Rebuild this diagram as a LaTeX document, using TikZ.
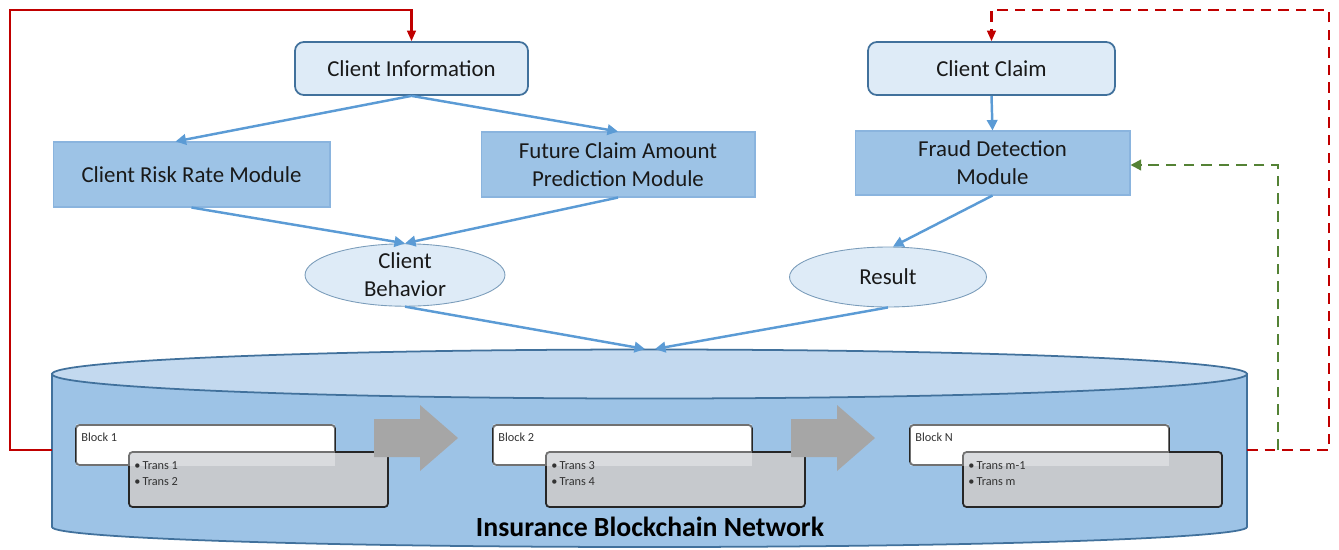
\documentclass[tikz,border=0pt]{standalone}
\usepackage{fontspec}
\setmainfont{Carlito}
\usetikzlibrary{arrows.meta,shapes.geometric,calc}
\definecolor{lightbox}{HTML}{DEEBF7}
\definecolor{boxborder}{HTML}{41719C}
\definecolor{modfill}{HTML}{9DC3E6}
\definecolor{modborder}{HTML}{8AB4DE}
\definecolor{arrowblue}{HTML}{5B9BD5}
\definecolor{redline}{HTML}{C00000}
\definecolor{greenline}{HTML}{548235}
\definecolor{cyltop}{HTML}{C3D9EF}
\definecolor{transgray}{HTML}{C6C9CD}
\definecolor{bigarrow}{HTML}{A6A6A6}
\tikzset{
  mainfont/.style={font=\fontsize{13}{16}\selectfont, text=black!90},
  infobox/.style={mainfont, draw=boxborder, line width=1pt, fill=lightbox, rounded corners=5pt, align=center},
  modbox/.style={mainfont, draw=modborder, line width=0.6pt, fill=modfill, align=center},
  oval/.style={mainfont, ellipse, draw=boxborder!70, line width=0.5pt, fill=lightbox, align=center, inner sep=0pt},
  flow/.style={draw=arrowblue, line width=1.4pt, -{Triangle[length=6pt,width=6pt]}},
  redsolid/.style={draw=redline, line width=1.2pt, -{Triangle[length=6pt,width=5pt]}},
  reddash/.style={draw=redline, line width=1.2pt, dash pattern=on 6pt off 4pt, -{Triangle[length=6pt,width=5pt]}},
  greendash/.style={draw=greenline, line width=1.2pt, dash pattern=on 6pt off 4pt, -{Triangle[length=6pt,width=6pt]}},
  blockbox/.style={draw=black!85, line width=1pt, fill=white, rounded corners=2pt, minimum width=5.18cm, minimum height=0.80cm, inner sep=0pt},
  transbox/.style={draw=black!85, line width=1pt, fill=transgray, rounded corners=2pt, minimum width=5.18cm, minimum height=1.10cm, inner sep=0pt},
  smalltext/.style={font=\fontsize{7}{8.5}\selectfont, text=black!80, anchor=west, inner sep=0pt},
}
\begin{document}
\begin{tikzpicture}[x=0.02cm,y=-0.02cm]
\useasboundingbox (0,0) rectangle (1339,549);

% cylinder
\path[fill=modfill, draw=boxborder, line width=1pt]
  (52,374) -- (52,527) arc[start angle=180, end angle=0, x radius=597.5, y radius=20] -- (1247,374) -- cycle;
\draw[fill=cyltop, draw=boxborder, line width=1pt] (649.5,374) ellipse [x radius=597.5, y radius=24.5];
\coordinate (cylL) at (52,450);
\coordinate (cylR) at (1247,450);
\coordinate (cylT1) at (645,349);
\coordinate (cylT2) at (655,349);
\coordinate (gstart) at (1278,450);
\coordinate (rtopL) at (10,10);
\coordinate (rtopR) at (1329,10);

% blocks
\foreach \n/\dx/\lab/\ta/\tb in {1/0/Block 1/Trans 1/Trans 2, 2/417/Block 2/Trans 3/Trans 4, 3/834/Block N/Trans m-1/Trans m}{
  \node[blockbox] (blk\n) at (205.5+\dx,445) {};
  \node[transbox] (trn\n) at (258.5+\dx,479.5) {};
  \fill[white, fill opacity=0.35] ($(blk\n.south west)+(1,0)$) rectangle ($(blk\n.north east)+(-1,0)$);
  \node[smalltext] (blab\n) at (81+\dx,437) {\lab};
  \node[smalltext] (ta\n) at (134+\dx,466) {\textbullet\,\ta};
  \node[smalltext] (tb\n) at (134+\dx,482) {\textbullet\,\tb};
}
% big gray arrows
\foreach \n/\dx in {1/0, 2/417}{
  \fill[bigarrow] (374+\dx,419) -- (420+\dx,419) -- (420+\dx,405) -- (458+\dx,438) -- (420+\dx,471) -- (420+\dx,457) -- (374+\dx,457) -- cycle;
}
\node[font=\fontsize{15.8}{19}\selectfont\bfseries, text=black] (title) at (650,527) {Insurance Blockchain Network};

% top nodes
\node[infobox, minimum width=4.66cm, minimum height=1.06cm] (ci) at (411.5,68.5) {Client Information};
\node[infobox, minimum width=4.94cm, minimum height=1.06cm] (cc) at (991.5,68.5) {Client Claim};
\node[modbox, minimum width=5.54cm, minimum height=1.30cm] (risk) at (191.5,174.5) {Client Risk Rate Module};
\node[modbox, minimum width=5.48cm, minimum height=1.30cm] (future) at (618,164.5) {Future Claim Amount\\Prediction Module};
\node[modbox, minimum width=5.50cm, minimum height=1.28cm] (fraud) at (992.5,163) {Fraud Detection\\Module};
\node[oval, minimum width=4.0cm, minimum height=1.2cm] (beh) at (405,275) {Client\\Behavior};
\node[oval, minimum width=3.94cm, minimum height=1.2cm] (res) at (888,277) {Result};

% flows
\draw[flow] (ci.south) -- ([xshift=-0.32cm]risk.north);
\draw[flow] (ci.south) -- (future.north);
\draw[flow] (risk.south) -- (beh.north);
\draw[flow] (future.south) -- (beh.north);
\draw[flow] (cc.south) -- (fraud.north);
\draw[flow] (fraud.south) -- ([xshift=0.1cm]res.north);
\draw[flow] (beh.south) -- (cylT1);
\draw[flow] (res.south) -- (cylT2);

% feedback lines
\draw[redsolid] (cylL) -| (rtopL) -| (ci.north);
\draw[reddash] (cylR) -| (rtopR) -| (cc.north);
\draw[greendash] (gstart) |- ([yshift=-0.04cm]fraud.east);
\end{tikzpicture}
\end{document}
